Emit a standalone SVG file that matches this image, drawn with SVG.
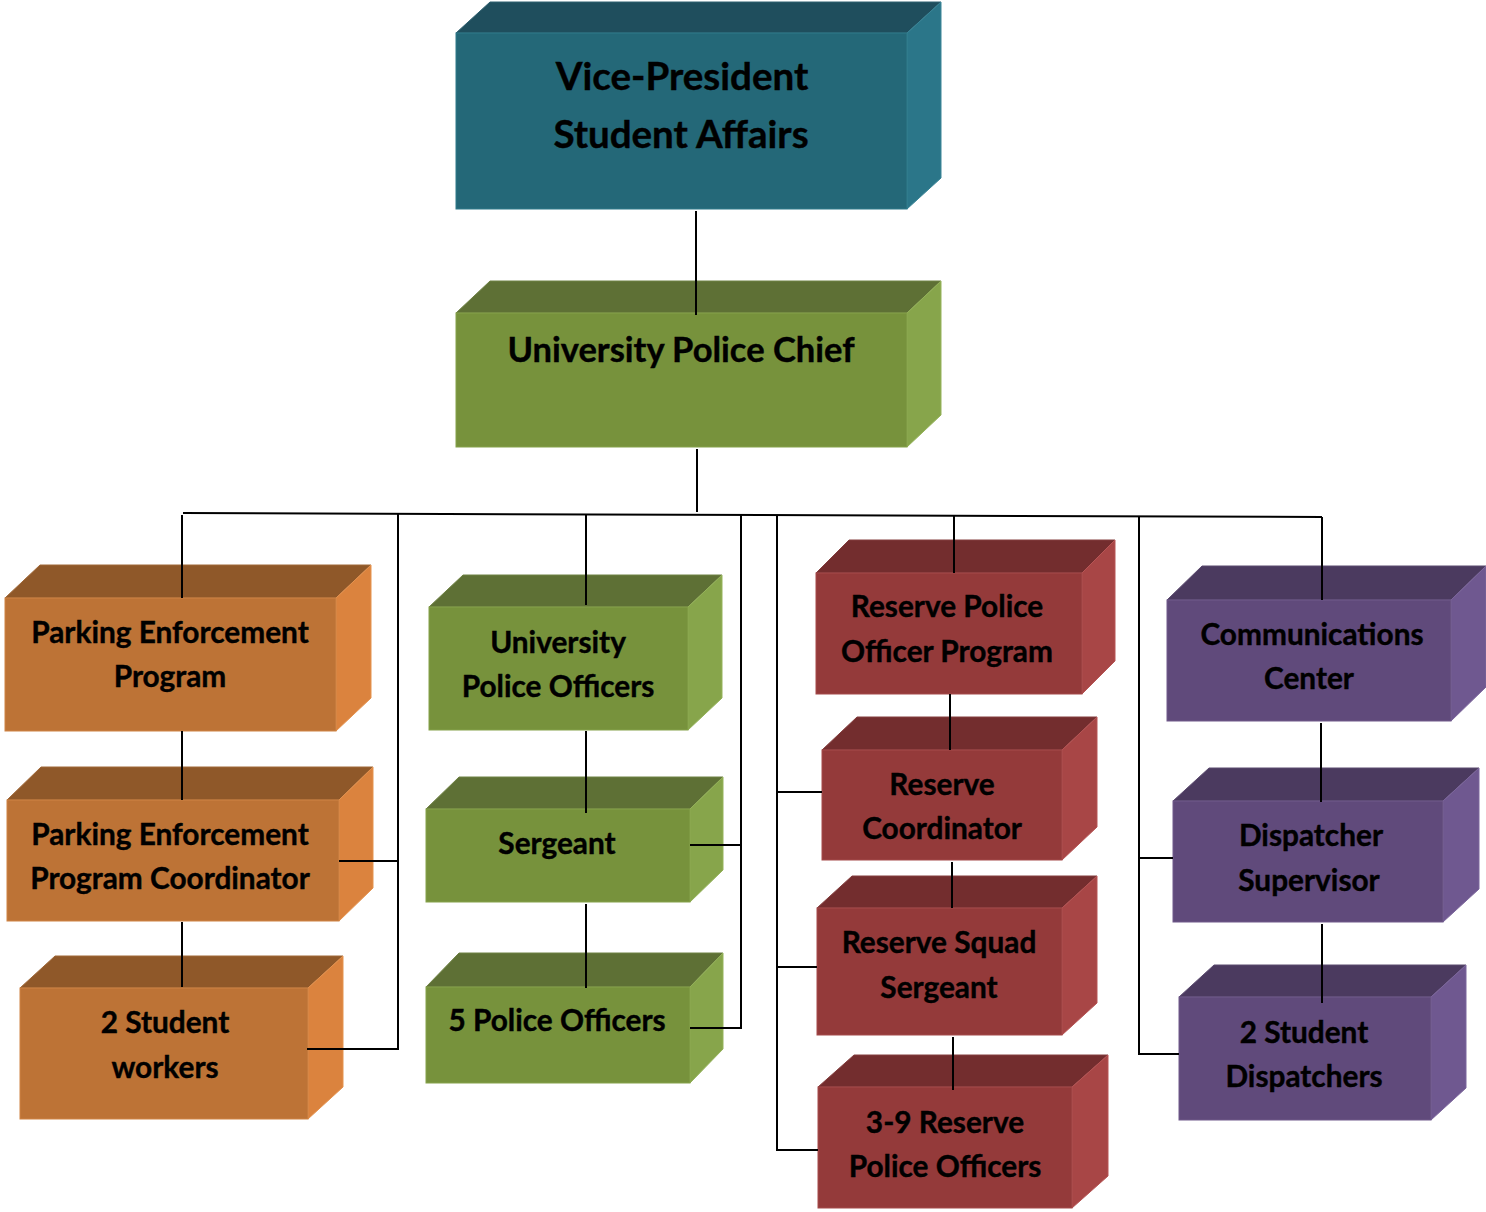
<svg xmlns="http://www.w3.org/2000/svg" width="1486" height="1212" viewBox="0 0 1486 1212">
<style>
  text { font-family: Lato, "Open Sans", "Liberation Sans", sans-serif; font-weight: 700; fill: #000; stroke: #000; stroke-width: 0.4; text-anchor: middle; }
  .t36 { font-size: 38.5px; }
  .t34 { font-size: 34.5px; }
  .t28 { font-size: 29.8px; }
  .teal .f { fill: #246878; stroke: #2f7a8a; }
  .teal .tp { fill: #1f4e5d; stroke: #2f6070; }
  .teal .r { fill: #2b7689; stroke: #3a8597; }
  .green .f { fill: #77923c; stroke: #86a24a; }
  .green .tp { fill: #5e7035; stroke: #6f8244; }
  .green .r { fill: #87a54b; stroke: #95b35a; }
  .orange .f { fill: #bd7336; stroke: #cf8445; }
  .orange .tp { fill: #8f5829; stroke: #a06838; }
  .orange .r { fill: #db833e; stroke: #e5934f; }
  .red .f { fill: #943a3a; stroke: #a54a4a; }
  .red .tp { fill: #732d2e; stroke: #843e3e; }
  .red .r { fill: #a84646; stroke: #b75555; }
  .purple .f { fill: #604a7b; stroke: #705a8b; }
  .purple .tp { fill: #4b3a5f; stroke: #5b4a6f; }
  .purple .r { fill: #6f5890; stroke: #7d679d; }
  .f, .tp, .r { stroke-width: 1; }
  .conn line, .conn polyline { stroke: #000; stroke-width: 2; fill: none; }
</style>

<g id="node-vp" class="teal">
  <polygon class="tp" points="456,33 490,2 941,2 907,33"/>
  <polygon class="r" points="907,33 941,2 941,178 907,209"/>
  <rect class="f" x="456" y="33" width="451" height="176"/>
  <text class="t36" x="682" y="90">Vice-President</text>
  <text class="t36" x="681" y="148">Student Affairs</text>
</g>

<g id="node-chief" class="green">
  <polygon class="tp" points="456,313 490,281 941,281 907,313"/>
  <polygon class="r" points="907,313 941,281 941,415 907,447"/>
  <rect class="f" x="456" y="313" width="451" height="134"/>
  <text class="t34" x="681" y="362">University Police Chief</text>
</g>

<g id="node-pep" class="orange">
  <polygon class="tp" points="5,598 40,565 371,565 336,598"/>
  <polygon class="r" points="336,598 371,565 371,698 336,731"/>
  <rect class="f" x="5" y="598" width="331" height="133"/>
  <text class="t28" x="170" y="643">Parking Enforcement</text>
  <text class="t28" x="170" y="687">Program</text>
</g>

<g id="node-pepc" class="orange">
  <polygon class="tp" points="7,800 41,767 373,767 339,800"/>
  <polygon class="r" points="339,800 373,767 373,888 339,921"/>
  <rect class="f" x="7" y="800" width="332" height="121"/>
  <text class="t28" x="170" y="845">Parking Enforcement</text>
  <text class="t28" x="170" y="889">Program Coordinator</text>
</g>

<g id="node-2sw" class="orange">
  <polygon class="tp" points="20,988 55,956 343,956 308,988"/>
  <polygon class="r" points="308,988 343,956 343,1087 308,1119"/>
  <rect class="f" x="20" y="988" width="288" height="131"/>
  <text class="t28" x="165" y="1033">2 Student</text>
  <text class="t28" x="165" y="1078">workers</text>
</g>

<g id="node-upo" class="green">
  <polygon class="tp" points="429,607 463,575 722,575 688,607"/>
  <polygon class="r" points="688,607 722,575 722,698 688,730"/>
  <rect class="f" x="429" y="607" width="259" height="123"/>
  <text class="t28" x="558" y="653">University</text>
  <text class="t28" x="558" y="697">Police Officers</text>
</g>

<g id="node-sgt" class="green">
  <polygon class="tp" points="426,809 459,777 723,777 690,809"/>
  <polygon class="r" points="690,809 723,777 723,870 690,902"/>
  <rect class="f" x="426" y="809" width="264" height="93"/>
  <text class="t28" x="557" y="854">Sergeant</text>
</g>

<g id="node-5po" class="green">
  <polygon class="tp" points="426,987 459,953 723,953 690,987"/>
  <polygon class="r" points="690,987 723,953 723,1049 690,1083"/>
  <rect class="f" x="426" y="987" width="264" height="96"/>
  <text class="t28" x="557" y="1031">5 Police Officers</text>
</g>

<g id="node-rpop" class="red">
  <polygon class="tp" points="816,573 849,540 1115,540 1082,573"/>
  <polygon class="r" points="1082,573 1115,540 1115,661 1082,694"/>
  <rect class="f" x="816" y="573" width="266" height="121"/>
  <text class="t28" x="947" y="617">Reserve Police</text>
  <text class="t28" x="947" y="662">Officer Program</text>
</g>

<g id="node-rc" class="red">
  <polygon class="tp" points="822,750 857,717 1097,717 1062,750"/>
  <polygon class="r" points="1062,750 1097,717 1097,827 1062,860"/>
  <rect class="f" x="822" y="750" width="240" height="110"/>
  <text class="t28" x="942" y="795">Reserve</text>
  <text class="t28" x="942" y="839">Coordinator</text>
</g>

<g id="node-rss" class="red">
  <polygon class="tp" points="817,908 852,876 1097,876 1062,908"/>
  <polygon class="r" points="1062,908 1097,876 1097,1003 1062,1035"/>
  <rect class="f" x="817" y="908" width="245" height="127"/>
  <text class="t28" x="939" y="953">Reserve Squad</text>
  <text class="t28" x="939" y="998">Sergeant</text>
</g>

<g id="node-rpo" class="red">
  <polygon class="tp" points="818,1087 854,1055 1108,1055 1072,1087"/>
  <polygon class="r" points="1072,1087 1108,1055 1108,1176 1072,1208"/>
  <rect class="f" x="818" y="1087" width="254" height="121"/>
  <text class="t28" x="945" y="1133">3-9 Reserve</text>
  <text class="t28" x="945" y="1177">Police Officers</text>
</g>

<g id="node-cc" class="purple">
  <polygon class="tp" points="1167,600 1202,566 1486,566 1451,600"/>
  <polygon class="r" points="1451,600 1486,566 1486,687 1451,721"/>
  <rect class="f" x="1167" y="600" width="284" height="121"/>
  <text class="t28" x="1312" y="645">Communications</text>
  <text class="t28" x="1309" y="689">Center</text>
</g>

<g id="node-ds" class="purple">
  <polygon class="tp" points="1173,801 1209,768 1479,768 1443,801"/>
  <polygon class="r" points="1443,801 1479,768 1479,889 1443,922"/>
  <rect class="f" x="1173" y="801" width="270" height="121"/>
  <text class="t28" x="1311" y="846">Dispatcher</text>
  <text class="t28" x="1309" y="891">Supervisor</text>
</g>

<g id="node-2sd" class="purple">
  <polygon class="tp" points="1179,997 1214,965 1466,965 1431,997"/>
  <polygon class="r" points="1431,997 1466,965 1466,1088 1431,1120"/>
  <rect class="f" x="1179" y="997" width="252" height="123"/>
  <text class="t28" x="1304" y="1043">2 Student</text>
  <text class="t28" x="1304" y="1087">Dispatchers</text>
</g>

<g id="connectors" class="conn">
  <line x1="696" y1="211" x2="696" y2="315"/>
  <line x1="697" y1="449" x2="697" y2="512"/>
  <line x1="183" y1="513" x2="1322" y2="517"/>
  <line x1="182" y1="515" x2="182" y2="598"/>
  <line x1="182" y1="731" x2="182" y2="800"/>
  <line x1="182" y1="922" x2="182" y2="987"/>
  <polyline points="398,513 398,1049 307,1049"/>
  <line x1="339" y1="861" x2="398" y2="861"/>
  <line x1="586" y1="514" x2="586" y2="605"/>
  <line x1="586" y1="731" x2="586" y2="813"/>
  <line x1="586" y1="904" x2="586" y2="988"/>
  <polyline points="741,514 741,1028 690,1028"/>
  <line x1="690" y1="845" x2="741" y2="845"/>
  <polyline points="777,515 777,1150 818,1150"/>
  <line x1="777" y1="792" x2="822" y2="792"/>
  <line x1="777" y1="967" x2="817" y2="967"/>
  <line x1="954" y1="516" x2="954" y2="573"/>
  <line x1="950" y1="694" x2="950" y2="750"/>
  <line x1="952" y1="862" x2="952" y2="908"/>
  <line x1="953" y1="1037" x2="953" y2="1090"/>
  <polyline points="1139,517 1139,1054 1179,1054"/>
  <line x1="1139" y1="858" x2="1173" y2="858"/>
  <line x1="1322" y1="517" x2="1322" y2="600"/>
  <line x1="1321" y1="723" x2="1321" y2="802"/>
  <line x1="1322" y1="924" x2="1322" y2="1003"/>
</g>
</svg>
